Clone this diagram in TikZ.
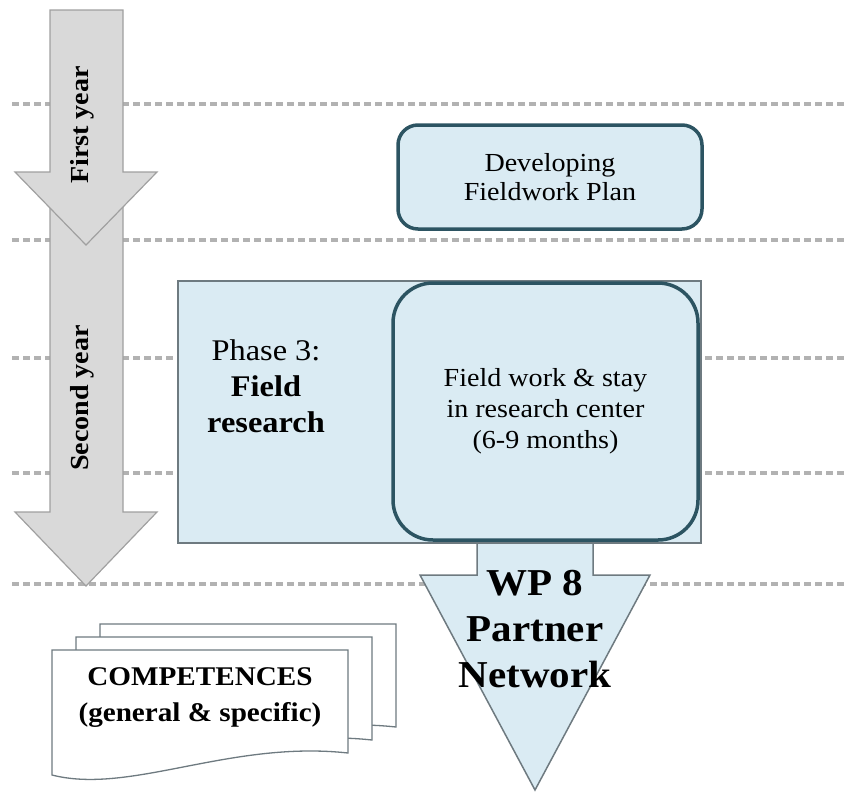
\documentclass[tikz,border=0pt]{standalone}
\usepackage{fontspec}
\setmainfont{Liberation Serif}[FakeStretch=1.08]
\usetikzlibrary{positioning}
\definecolor{paleblue}{RGB}{218,235,243}
\definecolor{deepteal}{RGB}{44,84,98}
\definecolor{slateline}{RGB}{110,122,128}
\definecolor{arrowgray}{RGB}{217,217,217}
\definecolor{arrowedge}{RGB}{160,160,160}
\definecolor{dashgray}{RGB}{178,178,178}
\tikzset{
  guideline/.style={dashgray, line width=4pt, dash pattern=on 7pt off 4pt},
  yeararrow/.style={fill=arrowgray, draw=arrowedge, line width=1.2pt},
  yeartext/.style={rotate=90, font=\bfseries\fontsize{26}{30}\selectfont},
  wparrow/.style={fill=paleblue, draw=slateline, line width=1.5pt},
  phasebox/.style={fill=paleblue, draw=slateline, line width=1.5pt},
  planbox/.style={fill=paleblue, draw=deepteal, line width=3.5pt, rounded corners=20pt, align=center, font=\fontsize{26}{29}\selectfont},
  sheet/.style={fill=white, draw=slateline, line width=1.3pt},
}
\begin{document}
\begin{tikzpicture}[x=1pt,y=-1pt,inner sep=0pt,outer sep=0pt]
    \useasboundingbox (0,0) rectangle (846,796);
    % dashed year borders
    \foreach \y in {104,240,358,473,584}
        \draw[guideline] (12,\y) -- (846,\y);

    % year arrows, second one first so that it lies behind
    \foreach \top/\neck/\tip in {190/512/586, 10/172/245}
        \draw[yeararrow] (50,\top) -- (123,\top) -- (123,\neck) -- (157,\neck) -- (86,\tip) -- (15,\neck) -- (50,\neck) -- cycle;
    \node[yeartext] (first) at (82,125) {First year};
    \node[yeartext] (second) at (82,398) {Second year};

    % WP 8 arrow
    \draw[wparrow] (477,530) -- (593,530) -- (593,575) -- (650,575) -- (535,790) -- (420,575) -- (477,575) -- cycle;

    \node[phasebox, minimum width=523pt, minimum height=262pt] (phase) at (439.5,412) {};
    \node[align=center, font=\fontsize{30}{36}\selectfont] (phaselabel) at (266,386) {Phase 3:\\\textbf{Field}\\\textbf{research}};
    \node[planbox, rounded corners=40pt, minimum width=305pt, minimum height=257pt, font=\fontsize{26}{31}\selectfont] (stay) at (545.5,411.5) {Field work \& stay\\in research center\\(6-9 months)};
    \node[planbox, minimum width=304pt, minimum height=104pt] (plan) at (550,177) {Developing\\Fieldwork Plan};

    \node[align=center, font=\bfseries\fontsize{38}{46}\selectfont] (wp) at (535,629) {WP 8\\Partner\\Network};

    % competences, stacked sheets
    \foreach \dx/\dy in {48/-26, 24/-13, 0/0}
        \draw[sheet, shift={(\dx,\dy)}] (52,650) -- (348,650) -- (348,753) .. controls (230,740) and (130,795) .. (52,775) -- cycle;
    \node[align=center, font=\bfseries\fontsize{27}{36}\selectfont] (skills) at (200,698) {COMPETENCES\\(general \& specific)};
\end{tikzpicture}
\end{document}
